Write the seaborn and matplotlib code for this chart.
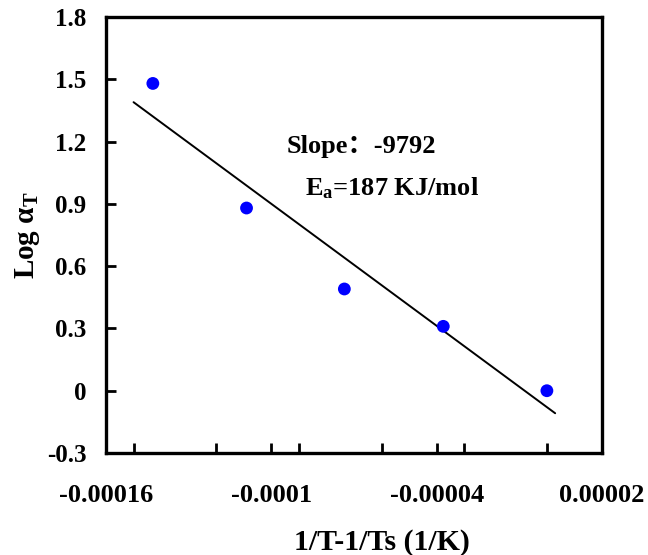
import numpy as np
import pandas as pd
import matplotlib
matplotlib.use("Agg")
import matplotlib.pyplot as plt
from matplotlib.ticker import MultipleLocator
import seaborn as sns

# Shift factors versus reciprocal temperature difference
inv_t_diff = [-0.000143, -0.000109, -0.0000735, -0.0000376, 0.0]
log_shift = [1.48, 0.88, 0.49, 0.31, 0.0]

# Arrhenius fit: slope from the regression, line drawn over this span
slope = -9792
fit_span = [-0.00015, 0.000003]
activation_energy = 187  # kJ/mol

x_ticks = [-0.00016, -0.0001, -0.00004, 0.00002]
x_tick_labels = ["-0.00016", "-0.0001", "-0.00004", "0.00002"]
y_ticks = [-0.3, 0, 0.3, 0.6, 0.9, 1.2, 1.5, 1.8]
y_tick_labels = ["-0.3", "0", "0.3", "0.6", "0.9", "1.2", "1.5", "1.8"]

sns.set_theme(style="white")
plt.rcParams["font.family"] = ["Liberation Serif", "Noto Sans CJK SC", "DejaVu Sans"]
plt.rcParams["font.weight"] = "bold"
plt.rcParams["text.color"] = "black"
plt.rcParams["axes.labelcolor"] = "black"
plt.rcParams["xtick.color"] = "black"
plt.rcParams["ytick.color"] = "black"
plt.rcParams["mathtext.fontset"] = "custom"
plt.rcParams["mathtext.rm"] = "Liberation Serif:bold"
plt.rcParams["mathtext.bf"] = "Liberation Serif:bold"
plt.rcParams["mathtext.it"] = "Liberation Serif:bold:italic"

points = pd.DataFrame({"x": inv_t_diff, "y": log_shift})
intercept = np.mean(log_shift) - slope * np.mean(inv_t_diff)
fit = pd.DataFrame({"x": fit_span, "y": [slope * v + intercept for v in fit_span]})

fig = plt.figure(figsize=(6.48, 5.55), dpi=100)
ax = fig.add_axes([106 / 648, 1 - 453 / 555, (602 - 106) / 648, (453 - 17) / 555])

sns.lineplot(data=fit, x="x", y="y", ax=ax, color="black", linewidth=1.4)
sns.scatterplot(data=points, x="x", y="y", ax=ax, color="#0000ff", s=85,
                edgecolor="none", zorder=3)

ax.set_xlim(-0.00016, 0.00002)
ax.set_ylim(-0.3, 1.8)
ax.set_xticks(x_ticks)
ax.set_xticklabels(x_tick_labels)
ax.xaxis.set_minor_locator(MultipleLocator(0.00003))
ax.set_yticks(y_ticks)
ax.set_yticklabels(y_tick_labels)

ax.tick_params(axis="x", which="both", direction="in", length=7, width=2,
               bottom=True, top=False, labelsize=19, pad=22)
ax.tick_params(axis="y", which="both", direction="in", length=7, width=2,
               left=True, right=False, labelsize=18, pad=14)
for lab in ax.get_xticklabels() + ax.get_yticklabels():
    lab.set_fontweight("bold")

for sp in ax.spines.values():
    sp.set_visible(True)
    sp.set_color("black")
    sp.set_linewidth(2.4)

ax.set_xlabel("1/T-1/Ts (1/K)", fontsize=21.5, fontweight="bold", labelpad=16)
ax.xaxis.set_label_coords(0.556, -0.175)
ax.set_ylabel(r"Log α$_\mathrm{T}$", fontsize=21, fontweight="bold", labelpad=4)

ax.text(-0.0000943, 1.145, f"Slope：{slope}", fontsize=19, fontweight="bold",
        ha="left", va="baseline")
ax.text(-0.0000878, 0.94, r"E$_\mathrm{a}$=" + f"{activation_energy} KJ/mol",
        fontsize=19, fontweight="bold", ha="left", va="baseline")

fig.savefig("out.png", dpi=100)
